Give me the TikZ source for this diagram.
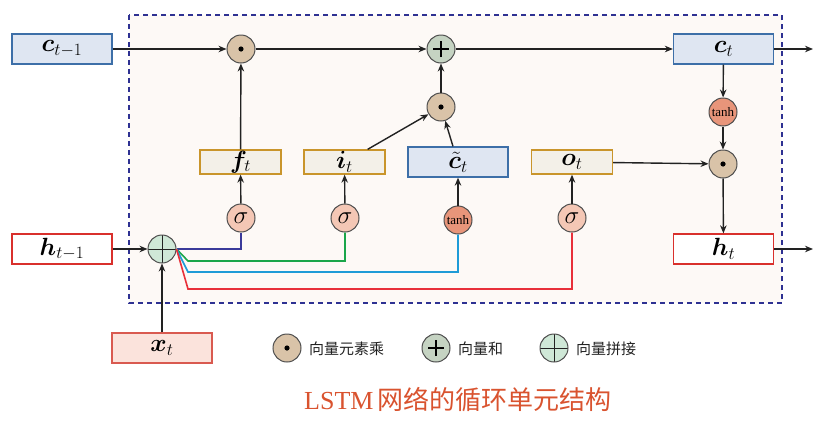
\documentclass[tikz,border=0pt]{standalone}
\usepackage{fontspec}
\usepackage{bm}
\newfontfamily\cjk{Noto Sans CJK SC}
\newfontfamily\tms{Liberation Serif}
\usetikzlibrary{arrows.meta}
\definecolor{frame}{HTML}{2E3192}
\definecolor{framefill}{HTML}{FDF9F6}
\definecolor{cfill}{HTML}{DFE6F2}
\definecolor{cdraw}{HTML}{3D6FA8}
\definecolor{hdraw}{HTML}{D9302C}
\definecolor{xfill}{HTML}{FBE3DC}
\definecolor{xdraw}{HTML}{D95A50}
\definecolor{gfill}{HTML}{F3F0E8}
\definecolor{gdraw}{HTML}{C9952B}
\definecolor{sigfill}{HTML}{F4C7B5}
\definecolor{tanhfill}{HTML}{E8957A}
\definecolor{mulfill}{HTML}{D9C3A8}
\definecolor{addfill}{HTML}{C5D3C2}
\definecolor{catfill}{HTML}{CFE8D7}
\definecolor{wpurple}{HTML}{3A3A9A}
\definecolor{wgreen}{HTML}{1AA64A}
\definecolor{wcyan}{HTML}{1E9BD7}
\definecolor{wred}{HTML}{E8303A}
\definecolor{titlec}{HTML}{D9532F}
\definecolor{ink}{HTML}{222222}
\tikzset{
  arr/.style={draw=ink,line width=1.4pt,-{Stealth[length=8pt,width=6.5pt]}},
  wire/.style={line width=1.6pt},
  lab/.style={font=\fontsize{24}{26}\selectfont},
  bigbox/.style={rectangle,minimum width=100pt,minimum height=30pt,inner sep=0pt,line width=1.3pt,lab},
  cbox/.style={bigbox,fill=cfill,draw=cdraw},
  hbox/.style={bigbox,fill=white,draw=hdraw},
  xbox/.style={bigbox,fill=xfill,draw=xdraw},
  gbox/.style={rectangle,minimum width=81pt,minimum height=24pt,inner sep=0pt,line width=1.3pt,fill=gfill,draw=gdraw,lab},
  op/.style={circle,minimum size=28pt,inner sep=0pt,draw=ink!80,line width=1pt},
  sig/.style={op,fill=sigfill,font=\fontsize{23}{24}\selectfont},
  tanhc/.style={op,fill=tanhfill,font=\fontsize{13}{14}\selectfont},
  mul/.style={op,fill=mulfill,path picture={\fill[black] (path picture bounding box.center) circle (2.6pt);}},
  add/.style={op,fill=addfill,path picture={\draw[black,line width=1.2pt]
     ([xshift=-8pt]path picture bounding box.center) -- ([xshift=8pt]path picture bounding box.center)
     ([yshift=-8pt]path picture bounding box.center) -- ([yshift=8pt]path picture bounding box.center);}},
  cat/.style={op,fill=catfill,path picture={\draw[ink,line width=1pt]
     (path picture bounding box.west) -- (path picture bounding box.east)
     (path picture bounding box.north) -- (path picture bounding box.south);}},
  legtext/.style={anchor=west,font=\cjk\fontsize{15}{17}\selectfont,text=ink,inner sep=0pt}
}
\begin{document}
\begin{tikzpicture}[x=1pt,y=-1pt]
\useasboundingbox (0,0) rectangle (831,421);
\draw[frame,fill=framefill,line width=2pt,dash pattern=on 5pt off 4pt] (129,15) rectangle (782,303);

% boxes
\node[cbox] (cprev) at (62,49) {$\bm{c}_{t-1}$};
\node[hbox] (hprev) at (62,249) {$\bm{h}_{t-1}$};
\node[xbox] (xt) at (162,348) {$\bm{x}_t$};
\node[gbox] (ft) at (240.5,162) {$\bm{f}_t$};
\node[gbox] (it) at (344.5,162) {$\bm{i}_t$};
\node[cbox] (ctil) at (458,162) {$\tilde{\bm{c}}_t$};
\node[gbox] (ot) at (572,162) {$\bm{o}_t$};
\node[cbox] (ct) at (723.5,49) {$\bm{c}_t$};
\node[hbox] (ht) at (723.5,249) {$\bm{h}_t$};

% operators
\node[mul] (mul1) at (241,49) {};
\node[add] (addn) at (441,49) {};
\node[mul] (mul2) at (441,107) {};
\node[mul] (mul3) at (723,164) {};
\node[sig] (sf) at (241,218) {$\sigma$};
\node[sig] (si) at (345,218) {$\sigma$};
\node[tanhc] (th1) at (458,220) {\tms tanh};
\node[sig] (so) at (572,218) {$\sigma$};
\node[tanhc] (th2) at (723,112) {\tms tanh};
\node[cat] (cc) at (162,249) {};

\coordinate (out1) at (813,49);
\coordinate (out2) at (813,249);

% connectors
\draw[arr] (cprev) -- (mul1);
\draw[arr] (mul1) -- (addn);
\draw[arr] (addn) -- (ct);
\draw[arr] (ct) -- (out1);
\draw[arr] (ft) -- (mul1);
\draw[arr] (sf) -- (ft);
\draw[arr] (si) -- (it);
\draw[arr] (th1) -- (ctil);
\draw[arr] (so) -- (ot);
\draw[arr] (hprev) -- (cc);
\draw[arr] (xt) -- (cc);
\draw[arr] (mul2) -- (addn);
\draw[arr] ([xshift=-18pt]it.north east) -- (mul2);
\draw[arr] ([xshift=-5pt]ctil.north) -- (mul2);
\draw[arr] (ct) -- (th2);
\draw[arr] (th2) -- (mul3);
\draw[arr] (ot) -- (mul3);
\draw[arr] (mul3) -- (ht);
\draw[arr] (ht) -- (out2);

% wires
\draw[wire,wpurple] (cc.east) -| (sf.south);
\draw[wire,wgreen] (cc.east) -- (188,261) -| (si.south);
\draw[wire,wcyan] (cc.east) -- (188,272) -| (th1.south);
\draw[wire,wred] (cc.east) -- (188,289) -| (so.south);

% legend
\node[mul] (lg1) at (287,348) {};
\node[legtext] (lt1) at (309,349) {向量元素乘};
\node[add] (lg2) at (436,348) {};
\node[legtext] (lt2) at (458,349) {向量和};
\node[cat] (lg3) at (554,348) {};
\node[legtext] (lt3) at (576,349) {向量拼接};

% title
\node[text=titlec,font=\fontsize{26}{30}\selectfont] (title) at (458,400) {{\tms LSTM}\,{\cjk 网络的循环单元结构}};
\end{tikzpicture}
\end{document}
